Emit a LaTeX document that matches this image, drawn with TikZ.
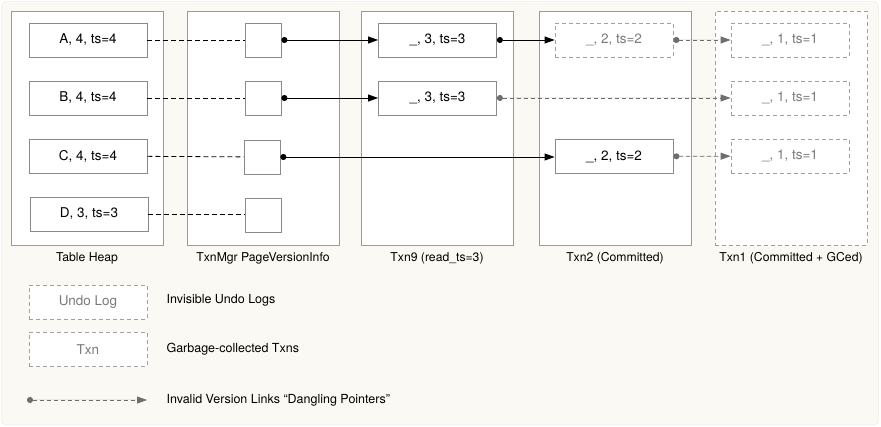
\documentclass[tikz,border=0pt]{standalone}
\usepackage{fontspec}
\setmainfont{TeX Gyre Heros}
\usetikzlibrary{arrows.meta}

\definecolor{paper}{HTML}{FBF9F3}
\definecolor{paperline}{HTML}{E6E2D8}
\definecolor{colgray}{HTML}{9A9A9A}
\definecolor{boxgray}{HTML}{8A8A8A}
\definecolor{dashgray}{HTML}{A0A0A0}
\definecolor{textgray}{HTML}{7A7A7A}
\definecolor{linkgray}{HTML}{6E6E6E}

\tikzset{
  col/.style={draw=colgray, fill=white, line width=0.8pt,
    minimum width=152pt, minimum height=234pt, inner sep=0pt},
  gccol/.style={col, draw=dashgray, dash pattern=on 4pt off 3pt},
  colname/.style={font=\fontsize{12.2}{14}\selectfont},
  rec/.style={draw=boxgray, fill=white, line width=0.8pt,
    minimum width=118pt, minimum height=34pt, inner sep=0pt,
    font=\fontsize{13.5}{16}\selectfont},
  undo/.style={rec, draw=dashgray, text=textgray, dash pattern=on 4pt off 3pt},
  slot/.style={draw=boxgray, fill=white, line width=0.8pt,
    minimum width=36pt, minimum height=34pt, inner sep=0pt},
  legtext/.style={anchor=west, font=\fontsize{12.5}{15}\selectfont},
  ptr/.style={line width=0.8pt, dash pattern=on 5pt off 3pt},
  link/.style={{Circle[length=6pt]}-{Triangle[length=10pt,width=7pt]}, line width=0.8pt},
  deadlink/.style={link, draw=linkgray, fill=linkgray, dash pattern=on 4pt off 3pt}
}

\begin{document}
\begin{tikzpicture}[x=1pt, y=-1pt]
  \useasboundingbox (0,0) rectangle (881,427);
  % background card
  \fill[paper, draw=paperline, rounded corners=5pt] (1.5,1.5) rectangle (878.5,425);

  % the five columns
  \node[col]   (heap) at (87,128)  {};
  \node[col]   (mgr)  at (263,128) {};
  \node[col]   (txn9) at (437,128) {};
  \node[col]   (txn2) at (615,128) {};
  \node[gccol] (txn1) at (791,128) {};

  \node[colname] (heapname) at (87,258)  {Table Heap};
  \node[colname] (mgrname)  at (263,258) {TxnMgr PageVersionInfo};
  \node[colname] (txn9name) at (437,258) {Txn9 (read\_ts=3)};
  \node[colname] (txn2name) at (615,258) {Txn2 (Committed)};
  \node[colname] (txn1name) at (791,258) {Txn1 (Committed + GCed)};

  % tuples in the table heap
  \node[rec] (ha) at (88,40)  {A, 4, ts=4};
  \node[rec] (hb) at (88,98)  {B, 4, ts=4};
  \node[rec] (hc) at (88,156) {C, 4, ts=4};
  \node[rec] (hd) at (89,214) {D, 3, ts=3};

  % version info slots
  \node[slot] (sa) at (263,40)  {};
  \node[slot] (sb) at (263,98)  {};
  \node[slot] (sc) at (262,157) {};
  \node[slot] (sd) at (263,215) {};

  % undo logs
  \node[rec]  (ua9) at (437.5,40) {\_, 3, ts=3};
  \node[rec]  (ub9) at (437.5,98) {\_, 3, ts=3};
  \node[undo] (ua2) at (614,40)   {\_, 2, ts=2};
  \node[rec]  (uc2) at (614,156.5) {\_, 2, ts=2};
  \node[undo] (ua1) at (790,40)   {\_, 1, ts=1};
  \node[undo] (ub1) at (790,98)   {\_, 1, ts=1};
  \node[undo] (uc1) at (790,156)  {\_, 1, ts=1};

  % heap -> version info
  \draw[ptr] (ha) -- (sa);
  \draw[ptr] (hb) -- (sb);
  \draw[ptr] (hc) -- (sc);
  \draw[ptr] (hd.east) -- (sd.west |- hd.east);

  % version chains
  \draw[link] (sa) -- (ua9);
  \draw[link] (ua9) -- (ua2);
  \draw[deadlink] (ua2) -- (ua1);
  \draw[link] (sb) -- (ub9);
  \draw[deadlink] (ub9) -- (ub1);
  \draw[link] (sc.east) -- (uc2.west |- sc.east);
  \draw[deadlink] (uc2) -- (uc1);

  % legend
  \node[undo] (legundo) at (88,302)   {Undo Log};
  \node[undo] (legtxn)  at (88,349.5) {Txn};
  \node[legtext] (legundotext) at (163,300) {Invisible Undo Logs};
  \node[legtext] (legtxntext)  at (163,349) {Garbage-collected Txns};
  \coordinate (legfrom) at (27,400);
  \coordinate (legto)   at (147,400);
  \draw[deadlink] (legfrom) -- (legto);
  \node[legtext] (leglinktext) at (163,400) {Invalid Version Links “Dangling Pointers”};
\end{tikzpicture}
\end{document}
